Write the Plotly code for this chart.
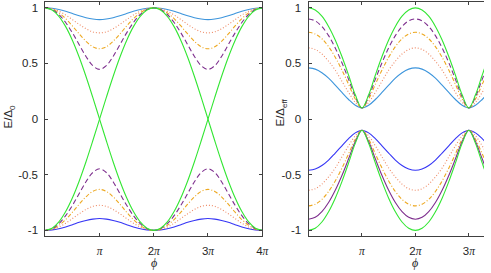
import math
import plotly.graph_objects as go

# phase samples: k * pi/8
k_left = list(range(33))
k_right = list(range(29))

# ---- left panel: E / Delta_0 ----
L_blue_top = [1, .996, .985, .969, .949, .928, .911, .899, .894, .899, .911, .928, .949, .969, .985, .996, 1,
              .996, .985, .969, .949, .928, .911, .899, .894, .899, .911, .928, .949, .969, .985, .996, 1]
L_dot_top = [1, .992, .970, .936, .894, .851, .812, .784, .775, .784, .812, .851, .894, .936, .970, .992, 1,
             .992, .970, .936, .894, .851, .812, .784, .775, .784, .812, .851, .894, .936, .970, .992, 1]
L_dd_top = [1, .989, .955, .903, .837, .765, .699, .650, .632, .650, .699, .765, .837, .903, .955, .989, 1,
            .989, .955, .903, .837, .765, .699, .650, .632, .650, .699, .765, .837, .903, .955, .989, 1]
L_dash_top = [1, .985, .940, .868, .775, .669, .563, .480, .447, .480, .563, .669, .775, .868, .940, .985, 1,
              .985, .940, .868, .775, .669, .563, .480, .447, .480, .563, .669, .775, .868, .940, .985, 1]
L_blue_bot = [-1, -.996, -.985, -.969, -.949, -.928, -.911, -.899, -.894, -.899, -.911, -.928, -.949, -.969, -.985, -.996, -1,
              -.996, -.985, -.969, -.949, -.928, -.911, -.899, -.894, -.899, -.911, -.928, -.949, -.969, -.985, -.996, -1]
L_dot_bot = [-1, -.992, -.970, -.936, -.894, -.851, -.812, -.784, -.775, -.784, -.812, -.851, -.894, -.936, -.970, -.992, -1,
             -.992, -.970, -.936, -.894, -.851, -.812, -.784, -.775, -.784, -.812, -.851, -.894, -.936, -.970, -.992, -1]
L_dd_bot = [-1, -.989, -.955, -.903, -.837, -.765, -.699, -.650, -.632, -.650, -.699, -.765, -.837, -.903, -.955, -.989, -1,
            -.989, -.955, -.903, -.837, -.765, -.699, -.650, -.632, -.650, -.699, -.765, -.837, -.903, -.955, -.989, -1]
L_dash_bot = [-1, -.985, -.940, -.868, -.775, -.669, -.563, -.480, -.447, -.480, -.563, -.669, -.775, -.868, -.940, -.985, -1,
              -.985, -.940, -.868, -.775, -.669, -.563, -.480, -.447, -.480, -.563, -.669, -.775, -.868, -.940, -.985, -1]
L_green_a = [1, .981, .924, .831, .707, .556, .383, .195, 0, -.195, -.383, -.556, -.707, -.831, -.924, -.981, -1,
             -.981, -.924, -.831, -.707, -.556, -.383, -.195, 0, .195, .383, .556, .707, .831, .924, .981, 1]
L_green_b = [-1, -.981, -.924, -.831, -.707, -.556, -.383, -.195, 0, .195, .383, .556, .707, .831, .924, .981, 1,
             .981, .924, .831, .707, .556, .383, .195, 0, -.195, -.383, -.556, -.707, -.831, -.924, -.981, -1]

# ---- right panel: E / Delta_eff ----
R_green_top = [1, .981, .925, .833, .711, .562, .394, .218, .1, .218, .394, .562, .711, .833, .925, .981, 1,
               .981, .925, .833, .711, .562, .394, .218, .1, .218, .394, .562, .711]
R_purple_top = [.9, .883, .832, .750, .640, .507, .357, .201, .1, .201, .357, .507, .640, .750, .832, .883, .9,
                .883, .832, .750, .640, .507, .357, .201, .1, .201, .357, .507, .640]
R_dd_top = [.78, .765, .722, .651, .556, .441, .312, .181, .1, .181, .312, .441, .556, .651, .722, .765, .78,
            .765, .722, .651, .556, .441, .312, .181, .1, .181, .312, .441, .556]
R_dot_top = [.64, .626, .585, .52, .44, .34, .24, .15, .1, .15, .24, .34, .44, .52, .585, .626, .64,
             .626, .585, .52, .44, .34, .24, .15, .1, .15, .24, .34, .44]
R_blue_top = [.46, .449, .417, .368, .305, .24, .176, .124, .1, .124, .176, .24, .305, .368, .417, .449, .46,
              .449, .417, .368, .305, .24, .176, .124, .1, .124, .176, .24, .305]
R_green_bot = [-1, -.981, -.925, -.833, -.711, -.562, -.394, -.218, -.1, -.218, -.394, -.562, -.711, -.833, -.925, -.981, -1,
               -.981, -.925, -.833, -.711, -.562, -.394, -.218, -.1, -.218, -.394, -.562, -.711]
R_purple_bot = [-.9, -.883, -.832, -.750, -.640, -.507, -.357, -.201, -.1, -.201, -.357, -.507, -.640, -.750, -.832, -.883, -.9,
                -.883, -.832, -.750, -.640, -.507, -.357, -.201, -.1, -.201, -.357, -.507, -.640]
R_dd_bot = [-.78, -.765, -.722, -.651, -.556, -.441, -.312, -.181, -.1, -.181, -.312, -.441, -.556, -.651, -.722, -.765, -.78,
            -.765, -.722, -.651, -.556, -.441, -.312, -.181, -.1, -.181, -.312, -.441, -.556]
R_dot_bot = [-.64, -.626, -.585, -.52, -.44, -.34, -.24, -.15, -.1, -.15, -.24, -.34, -.44, -.52, -.585, -.626, -.64,
             -.626, -.585, -.52, -.44, -.34, -.24, -.15, -.1, -.15, -.24, -.34, -.44]
R_blue_bot = [-.46, -.449, -.417, -.368, -.305, -.24, -.176, -.124, -.1, -.124, -.176, -.24, -.305, -.368, -.417, -.449, -.46,
              -.449, -.417, -.368, -.305, -.24, -.176, -.124, -.1, -.124, -.176, -.24, -.305]

x_tickvals_mult = [1, 2, 3, 4]
PI = "<span style='font-family:Liberation Serif;font-style:italic'>π</span>"
x_ticktext = [PI, "2" + PI, "3" + PI, "4" + PI]
y_tickvals = [-1, -0.5, 0, 0.5, 1]
y_ticktext = ["-1", "-0.5", "0", "0.5", "1"]

LIGHTBLUE = "#3d95dc"
BLUE = "#3535f5"
GREEN = "#33e633"
PURPLE = "#7e2f8e"
ORANGE = "#eda820"
SALMON = "#ee8a66"

phiL = [k * math.pi / 8 for k in k_left]
phiR = [k * math.pi / 8 for k in k_right]

fig = go.Figure()

def add(x, y, color, dash, xa, ya, width=1.1):
    fig.add_trace(go.Scatter(x=x, y=y, mode="lines", xaxis=xa, yaxis=ya, showlegend=False,
                             line=dict(color=color, width=width, dash=dash, shape="spline", smoothing=1)))

DASH = "5px,3px"
DD = "4px,2px,1px,2px"
DOT = "1px,2px"

add(phiL, L_blue_top, LIGHTBLUE, "solid", "x", "y")
add(phiL, L_dot_top, SALMON, DOT, "x", "y")
add(phiL, L_dd_top, ORANGE, DD, "x", "y")
add(phiL, L_dash_top, PURPLE, DASH, "x", "y")
add(phiL, L_blue_bot, BLUE, "solid", "x", "y")
add(phiL, L_dot_bot, SALMON, DOT, "x", "y")
add(phiL, L_dd_bot, ORANGE, DD, "x", "y")
add(phiL, L_dash_bot, PURPLE, DASH, "x", "y")
add(phiL, L_green_a, GREEN, "solid", "x", "y")
add(phiL, L_green_b, GREEN, "solid", "x", "y")

add(phiR, R_blue_top, LIGHTBLUE, "solid", "x2", "y2")
add(phiR, R_dot_top, SALMON, DOT, "x2", "y2")
add(phiR, R_dd_top, ORANGE, DD, "x2", "y2")
add(phiR, R_purple_top, PURPLE, DASH, "x2", "y2")
add(phiR, R_green_top, GREEN, "solid", "x2", "y2")
add(phiR, R_blue_bot, BLUE, "solid", "x2", "y2")
add(phiR, R_dot_bot, SALMON, DOT, "x2", "y2")
add(phiR, R_dd_bot, ORANGE, DD, "x2", "y2")
add(phiR, R_purple_bot, PURPLE, "solid", "x2", "y2")
add(phiR, R_green_bot, GREEN, "solid", "x2", "y2")

W, H = 491, 273
AX = "#404040"
tickfont = dict(family="Liberation Sans, Arial, sans-serif", size=11.5, color="#262626")

def xaxis(domain, rng, mirror):
    return dict(domain=domain, range=rng, showline=True, linecolor=AX, linewidth=1, mirror=mirror,
                ticks="inside", ticklen=3, tickcolor=AX, tickwidth=1, showgrid=False, zeroline=False,
                tickmode="array", tickvals=[m * math.pi for m in x_tickvals_mult], ticktext=x_ticktext,
                tickfont=tickfont, ticklabelstandoff=4)

def yaxis(domain, mirror, anchor):
    return dict(domain=domain, range=[-1.052, 1.048], showline=True, linecolor=AX, linewidth=1, mirror=mirror,
                ticks="inside", ticklen=3, tickcolor=AX, tickwidth=1, showgrid=False, zeroline=False,
                tickmode="array", tickvals=y_tickvals, ticktext=y_ticktext, tickfont=tickfont,
                ticklabelstandoff=4, anchor=anchor)

ydom = [(H - 236) / H, (H - 1.5) / H]
xL = xaxis([46 / W, 266 / W], [0, 4 * math.pi], "allticks")
xL["anchor"] = "y"
xR = xaxis([313 / W, 1.0], [0, (W - 313) / 54.2 * math.pi], "ticks")
xR["anchor"] = "y2"

labfont = dict(family="Liberation Sans, Arial, sans-serif", size=11.5, color="#262626")
phifont = dict(family="Liberation Serif, Times New Roman, serif", size=12, color="#262626")

fig.update_layout(
    width=W, height=H, margin=dict(l=0, r=0, t=0, b=0),
    paper_bgcolor="white", plot_bgcolor="white",
    xaxis=xL, yaxis=yaxis(ydom, "allticks", "x"),
    xaxis2=xR, yaxis2=yaxis(ydom, False, "x2"),
    annotations=[
        dict(text="E/Δ<sub>0</sub>", x=9 / W, y=1 - 116 / H, xref="paper", yref="paper", textangle=-90,
             showarrow=False, xanchor="center", yanchor="middle", font=labfont),
        dict(text="E/Δ<sub>eff</sub>", x=285 / W, y=1 - 112 / H, xref="paper", yref="paper", textangle=-90,
             showarrow=False, xanchor="center", yanchor="middle", font=labfont),
        dict(text="<i>ϕ</i>", x=156 / W, y=1 - 263 / H, xref="paper", yref="paper", showarrow=False,
             xanchor="center", yanchor="middle", font=phifont),
        dict(text="<i>ϕ</i>", x=421 / W, y=1 - 263 / H, xref="paper", yref="paper", showarrow=False,
             xanchor="center", yanchor="middle", font=phifont),
    ],
)

fig.write_html("out.html", config={"displayModeBar": False},
               post_script="document.body.style.margin='0';document.body.style.overflow='hidden';")
